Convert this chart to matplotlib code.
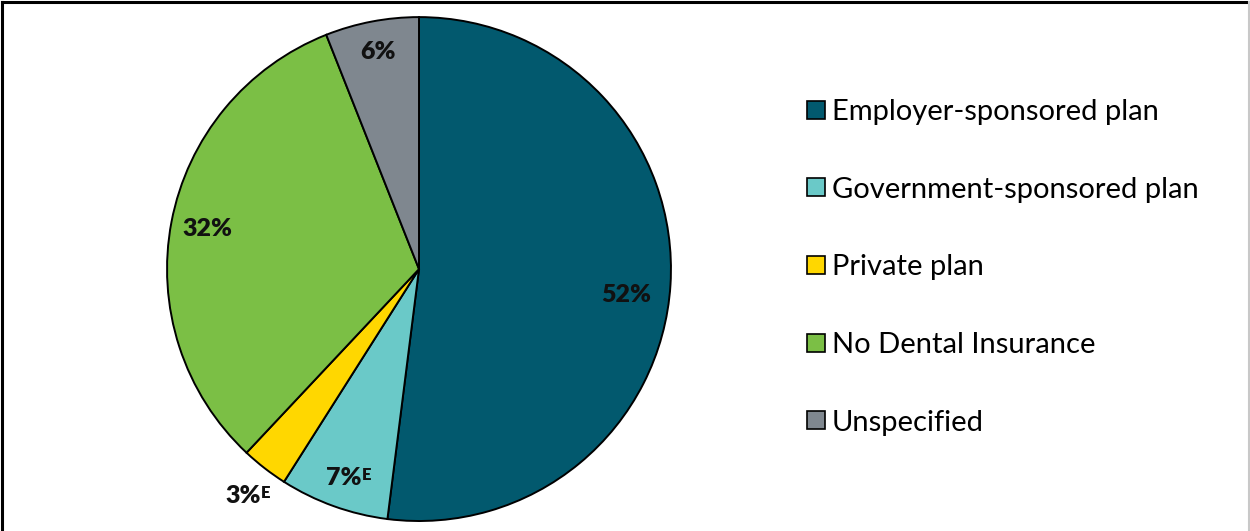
import matplotlib.pyplot as plt
import numpy as np
from matplotlib.lines import Line2D

plt.rcParams['font.family'] = ['Lato', 'DejaVu Sans']

categories = ['Employer-sponsored plan', 'Government-sponsored plan', 'Private plan',
              'No Dental Insurance', 'Unspecified']
shares = [52, 7, 3, 32, 6]
flagged = [False, True, True, False, False]   # estimates marked with superscript E
colors = ['#02596E', '#6AC9C8', '#FFD700', '#7BBF45', '#7F878F']

# radius of each label (in pie radii) and a small angle nudge in degrees
label_r = [0.83, 0.88, 1.14, 0.855, 0.875]
label_nudge = [-3.6, 0, 0, 0, 0]

fig = plt.figure(figsize=(12.5, 5.31), dpi=100)
ax = fig.add_axes([0.1336, 0.0188, 0.4032, 0.949])

wedges, _ = ax.pie(shares, colors=colors, startangle=90, counterclock=False,
                   wedgeprops=dict(edgecolor='black', linewidth=1.4))
ax.set_xlim(-1, 1)
ax.set_ylim(-1, 1)
ax.set_aspect('equal')

for w, val, flag, r, nudge in zip(wedges, shares, flagged, label_r, label_nudge):
    ang = np.deg2rad((w.theta1 + w.theta2) / 2 + nudge)
    t = ax.text(r * np.cos(ang), r * np.sin(ang), f'{val}%', ha='center', va='center',
                fontsize=18, fontweight='heavy', color='#111111')
    if flag:
        ax.annotate('E', xy=(1.0, 0.98), xycoords=t, ha='left', va='top',
                    fontsize=12, fontweight='heavy', color='#111111')

handles = [Line2D([], [], marker='s', linestyle='none', markersize=13,
                  markerfacecolor=c, markeredgecolor='black', markeredgewidth=1.2)
           for c in colors]
fig.legend(handles, categories, loc='upper left', bbox_to_anchor=(0.633, 0.841),
           frameon=False, fontsize=21, labelspacing=1.77, handlelength=0.7,
           handletextpad=0.2, borderpad=0)

# frame around the figure: black left/top, light grey right
fig.add_artist(Line2D([0.0015, 0.0015], [0, 0.996], color='black', lw=2.2, transform=fig.transFigure))
fig.add_artist(Line2D([0.0015, 1], [0.996, 0.996], color='black', lw=2.2, transform=fig.transFigure))
fig.add_artist(Line2D([0.9992, 0.9992], [0, 0.996], color='#c8c8c8', lw=1.5, transform=fig.transFigure))

fig.savefig('out.png', dpi=100)
